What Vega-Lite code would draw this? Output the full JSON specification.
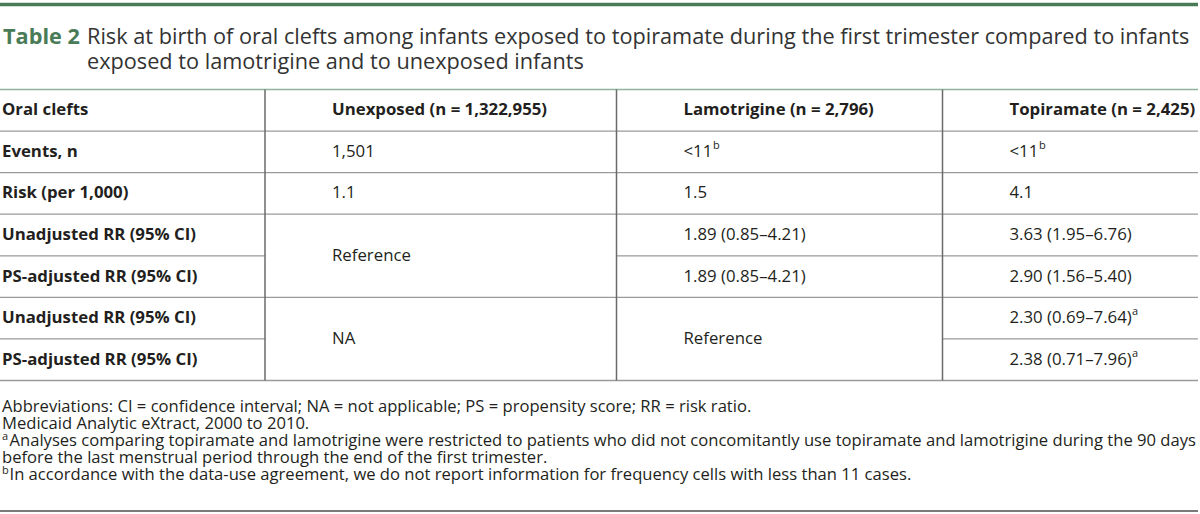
{
  "$schema": "https://vega.github.io/schema/vega-lite/v6.json",
  "width": 1200,
  "height": 514,
  "padding": 0,
  "autosize": {"type": "none"},
  "background": "white",
  "config": {"view": {"stroke": null}, "font": "Open Sans", "text": {"color": "#231f20"}},
  "datasets": {
    "frame": [{"edge": "top"}, {"edge": "bottom"}],
    "titleLines": [
      {"line": 1, "label": "Table 2", "text": "Risk at birth of oral clefts among infants exposed to topiramate during the first trimester compared to infants"},
      {"line": 2, "label": null, "text": "exposed to lamotrigine and to unexposed infants"}
    ],
    "hlines": [
      {"y": 0, "x1": 0, "x2": 4, "kind": "head"},
      {"y": 1, "x1": 0, "x2": 4, "kind": "row"},
      {"y": 2, "x1": 0, "x2": 4, "kind": "row"},
      {"y": 3, "x1": 0, "x2": 4, "kind": "row"},
      {"y": 4, "x1": 0, "x2": 1, "kind": "row"},
      {"y": 4, "x1": 2, "x2": 4, "kind": "row"},
      {"y": 5, "x1": 0, "x2": 4, "kind": "row"},
      {"y": 6, "x1": 0, "x2": 1, "kind": "row"},
      {"y": 6, "x1": 3, "x2": 4, "kind": "row"},
      {"y": 7, "x1": 0, "x2": 4, "kind": "row"}
    ],
    "vlines": [
      {"x": 1, "y1": 0, "y2": 7},
      {"x": 2, "y1": 0, "y2": 7},
      {"x": 3, "y1": 0, "y2": 7}
    ],
    "cells": [
      {"row": 0.5, "col": 0, "text": "Oral clefts"},
      {"row": 0.5, "col": 1, "text": "Unexposed (n = 1,322,955)"},
      {"row": 0.5, "col": 2, "text": "Lamotrigine (n = 2,796)"},
      {"row": 0.5, "col": 3, "text": "Topiramate (n = 2,425)"},
      {"row": 1.5, "col": 0, "text": "Events, n"},
      {"row": 1.5, "col": 1, "text": "1,501"},
      {"row": 1.5, "col": 2, "text": "<11"},
      {"row": 1.5, "col": 3, "text": "<11"},
      {"row": 2.5, "col": 0, "text": "Risk (per 1,000)"},
      {"row": 2.5, "col": 1, "text": "1.1"},
      {"row": 2.5, "col": 2, "text": "1.5"},
      {"row": 2.5, "col": 3, "text": "4.1"},
      {"row": 3.5, "col": 0, "text": "Unadjusted RR (95% CI)"},
      {"row": 3.5, "col": 2, "text": "1.89 (0.85–4.21)"},
      {"row": 3.5, "col": 3, "text": "3.63 (1.95–6.76)"},
      {"row": 4, "col": 1, "text": "Reference"},
      {"row": 4.5, "col": 0, "text": "PS-adjusted RR (95% CI)"},
      {"row": 4.5, "col": 2, "text": "1.89 (0.85–4.21)"},
      {"row": 4.5, "col": 3, "text": "2.90 (1.56–5.40)"},
      {"row": 5.5, "col": 0, "text": "Unadjusted RR (95% CI)"},
      {"row": 5.5, "col": 3, "text": "2.30 (0.69–7.64)"},
      {"row": 6, "col": 1, "text": "NA"},
      {"row": 6, "col": 2, "text": "Reference"},
      {"row": 6.5, "col": 0, "text": "PS-adjusted RR (95% CI)"},
      {"row": 6.5, "col": 3, "text": "2.38 (0.71–7.96)"}
    ],
    "sups": [
      {"row": 1.5, "col": 2, "text": "b"},
      {"row": 1.5, "col": 3, "text": "b"},
      {"row": 5.5, "col": 3, "text": "a"},
      {"row": 6.5, "col": 3, "text": "a"}
    ],
    "notes": [
      {"line": 1, "mark": null, "text": "Abbreviations: CI = confidence interval; NA = not applicable; PS = propensity score; RR = risk ratio."},
      {"line": 2, "mark": null, "text": "Medicaid Analytic eXtract, 2000 to 2010."},
      {"line": 3, "mark": "a", "text": "Analyses comparing topiramate and lamotrigine were restricted to patients who did not concomitantly use topiramate and lamotrigine during the 90 days"},
      {"line": 4, "mark": null, "text": "before the last menstrual period through the end of the first trimester."},
      {"line": 5, "mark": "b", "text": "In accordance with the data-use agreement, we do not report information for frequency cells with less than 11 cases."}
    ]
  },
  "resolve": {"scale": {"y": "independent"}},
  "layer": [
    {
      "data": {"name": "frame"},
      "transform": [{"filter": "datum.edge === 'top'"}],
      "mark": {"type": "rule", "color": "#4a7b57", "strokeWidth": 3.5},
      "encoding": {
        "x": {"datum": 0, "type": "quantitative", "axis": null, "scale": {"type": "linear", "domain": [0, 1, 2, 3, 4], "range": [0, 265, 616.5, 942.5, 1198], "nice": false, "zero": false}},
        "x2": {"datum": 4},
        "y": {"field": "edge", "type": "nominal", "axis": null, "scale": {"type": "point", "domain": ["top", "bottom"], "range": [4.5, 511], "padding": 0}}
      }
    },
    {
      "data": {"name": "frame"},
      "transform": [{"filter": "datum.edge === 'bottom'"}],
      "mark": {"type": "rule", "color": "#7a7a7a", "strokeWidth": 2},
      "encoding": {
        "x": {"datum": 0, "type": "quantitative", "axis": null},
        "x2": {"datum": 4},
        "y": {"field": "edge", "type": "nominal", "axis": null, "scale": {"type": "point", "domain": ["top", "bottom"], "range": [4.5, 511], "padding": 0}}
      }
    },
    {
      "data": {"name": "titleLines"},
      "transform": [{"filter": "datum.label != null"}],
      "mark": {"type": "text", "align": "left", "baseline": "alphabetic", "fontSize": 21.7, "fontWeight": "bold", "color": "#4a7b57", "dx": 3},
      "encoding": {
        "x": {"datum": 0, "type": "quantitative", "axis": null},
        "y": {"field": "line", "type": "quantitative", "axis": null, "scale": {"domain": [1, 2], "range": [44, 69], "nice": false, "zero": false}},
        "text": {"field": "label"}
      }
    },
    {
      "data": {"name": "titleLines"},
      "mark": {"type": "text", "align": "left", "baseline": "alphabetic", "fontSize": 21.7, "color": "#333333", "dx": 87},
      "encoding": {
        "x": {"datum": 0, "type": "quantitative", "axis": null},
        "y": {"field": "line", "type": "quantitative", "axis": null, "scale": {"domain": [1, 2], "range": [44, 69], "nice": false, "zero": false}},
        "text": {"field": "text"}
      }
    },
    {
      "data": {"name": "hlines"},
      "mark": {"type": "rule", "strokeWidth": 1.3},
      "encoding": {
        "x": {"field": "x1", "type": "quantitative", "axis": null},
        "x2": {"field": "x2"},
        "y": {"field": "y", "type": "quantitative", "axis": null, "scale": {"domain": [0, 7], "range": [89.5, 380.5], "nice": false, "zero": false}},
        "color": {"field": "kind", "type": "nominal", "legend": null, "scale": {"domain": ["head", "row"], "range": ["#8fb39b", "#9a9a9a"]}}
      }
    },
    {
      "data": {"name": "vlines"},
      "mark": {"type": "rule", "strokeWidth": 1.5, "color": "#6a6a6a"},
      "encoding": {
        "x": {"field": "x", "type": "quantitative", "axis": null},
        "y": {"field": "y1", "type": "quantitative", "axis": null, "scale": {"domain": [0, 7], "range": [89.5, 380.5], "nice": false, "zero": false}},
        "y2": {"field": "y2"}
      }
    },
    {
      "data": {"name": "cells"},
      "transform": [{"filter": "datum.col === 0"}],
      "mark": {"type": "text", "align": "left", "baseline": "middle", "fontSize": 16.8, "fontWeight": "bold", "dx": 2},
      "encoding": {
        "x": {"field": "col", "type": "quantitative", "axis": null},
        "y": {"field": "row", "type": "quantitative", "axis": null, "scale": {"domain": [0, 7], "range": [89.5, 380.5], "nice": false, "zero": false}},
        "text": {"field": "text"}
      }
    },
    {
      "data": {"name": "cells"},
      "transform": [{"filter": "datum.col > 0 && datum.row < 1"}],
      "mark": {"type": "text", "align": "left", "baseline": "middle", "fontSize": 16.8, "fontWeight": "bold", "dx": 67},
      "encoding": {
        "x": {"field": "col", "type": "quantitative", "axis": null},
        "y": {"field": "row", "type": "quantitative", "axis": null, "scale": {"domain": [0, 7], "range": [89.5, 380.5], "nice": false, "zero": false}},
        "text": {"field": "text"}
      }
    },
    {
      "data": {"name": "cells"},
      "transform": [{"filter": "datum.col > 0 && datum.row > 1"}],
      "mark": {"type": "text", "align": "left", "baseline": "middle", "fontSize": 16.8, "dx": 67},
      "encoding": {
        "x": {"field": "col", "type": "quantitative", "axis": null},
        "y": {"field": "row", "type": "quantitative", "axis": null, "scale": {"domain": [0, 7], "range": [89.5, 380.5], "nice": false, "zero": false}},
        "text": {"field": "text"}
      }
    },
    {
      "data": {"name": "sups"},
      "transform": [{"filter": "datum.row < 2"}],
      "mark": {"type": "text", "align": "left", "baseline": "middle", "fontSize": 11, "dx": 96.5, "dy": -6},
      "encoding": {
        "x": {"field": "col", "type": "quantitative", "axis": null},
        "y": {"field": "row", "type": "quantitative", "axis": null, "scale": {"domain": [0, 7], "range": [89.5, 380.5], "nice": false, "zero": false}},
        "text": {"field": "text"}
      }
    },
    {
      "data": {"name": "sups"},
      "transform": [{"filter": "datum.row > 5"}],
      "mark": {"type": "text", "align": "left", "baseline": "middle", "fontSize": 11, "dx": 189.5, "dy": -6},
      "encoding": {
        "x": {"field": "col", "type": "quantitative", "axis": null},
        "y": {"field": "row", "type": "quantitative", "axis": null, "scale": {"domain": [0, 7], "range": [89.5, 380.5], "nice": false, "zero": false}},
        "text": {"field": "text"}
      }
    },
    {
      "data": {"name": "notes"},
      "transform": [{"filter": "datum.mark == null"}],
      "mark": {"type": "text", "align": "left", "baseline": "alphabetic", "fontSize": 16.6, "dx": 2},
      "encoding": {
        "x": {"datum": 0, "type": "quantitative", "axis": null},
        "y": {"field": "line", "type": "quantitative", "axis": null, "scale": {"domain": [1, 5], "range": [412, 480], "nice": false, "zero": false}},
        "text": {"field": "text"}
      }
    },
    {
      "data": {"name": "notes"},
      "transform": [{"filter": "datum.mark != null"}],
      "mark": {"type": "text", "align": "left", "baseline": "alphabetic", "fontSize": 16.6, "dx": 9.5},
      "encoding": {
        "x": {"datum": 0, "type": "quantitative", "axis": null},
        "y": {"field": "line", "type": "quantitative", "axis": null, "scale": {"domain": [1, 5], "range": [412, 480], "nice": false, "zero": false}},
        "text": {"field": "text"}
      }
    },
    {
      "data": {"name": "notes"},
      "transform": [{"filter": "datum.mark != null"}],
      "mark": {"type": "text", "align": "left", "baseline": "alphabetic", "fontSize": 11, "dx": 2, "dy": -6},
      "encoding": {
        "x": {"datum": 0, "type": "quantitative", "axis": null},
        "y": {"field": "line", "type": "quantitative", "axis": null, "scale": {"domain": [1, 5], "range": [412, 480], "nice": false, "zero": false}},
        "text": {"field": "mark"}
      }
    }
  ]
}
